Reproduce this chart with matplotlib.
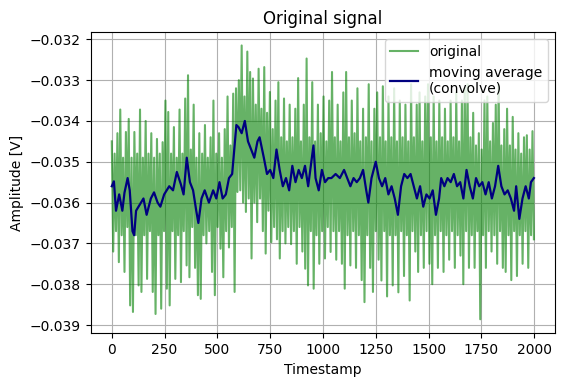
import numpy as np
import matplotlib
matplotlib.use("Agg")
import matplotlib.pyplot as plt

# Raw signal, in mV: alternating upper / lower strokes
signal_high_mv = [
    -34.5, -34.8, -34.3, -33.72, -34.9, -34.27, -33.95, -34.9, -34.27, -34.8,
    -33.72, -34.9, -34.0, -34.8, -34.3, -34.9, -34.44, -34.8, -34.52, -33.5,
    -33.78, -34.8, -34.15, -34.9, -33.72, -34.8, -33.45, -32.88, -34.7, -33.6,
    -34.9, -34.3, -34.8, -34.1, -34.9, -34.4, -33.5, -34.8, -34.3, -34.9,
    -34.2, -33.4, -34.6, -33.33, -33.2, -33.0, -32.15, -33.4, -32.3, -32.8,
    -32.96, -33.6, -32.72, -33.7, -32.68, -33.8, -33.29, -34.2, -33.5, -33.05,
    -34.4, -33.45, -34.5, -33.6, -34.4, -33.7, -32.95, -34.5, -33.6, -32.47,
    -34.4, -33.05, -34.5, -33.6, -34.3, -33.4, -34.5, -33.5, -32.8, -34.4,
    -33.6, -34.5, -33.3, -32.8, -34.4, -33.5, -34.3, -33.2, -34.5, -33.7,
    -34.4, -33.1, -34.5, -33.7, -33.3, -34.4, -33.15, -34.5, -33.4, -34.4,
    -33.2, -34.5, -33.5, -34.4, -33.6, -34.5, -33.1, -34.4, -33.6, -33.3,
    -34.5, -33.4, -33.1, -34.4, -33.4, -34.5, -33.5, -34.4, -33.7, -34.5,
    -33.5, -34.4, -33.3, -34.5, -33.5, -33.2, -33.1, -34.4, -33.8, -34.6,
    -34.3, -34.7, -33.5, -33.4, -34.5, -34.05, -33.6, -33.1, -34.6, -34.2,
    -33.7, -34.6, -33.9, -34.7, -34.3, -34.8, -34.4, -34.35, -34.7, -34.25,
]
signal_low_mv = [
    -37.2, -36.7, -37.46, -36.8, -37.7, -36.6, -38.52, -38.68, -36.8, -38.03,
    -38.19, -36.8, -37.87, -36.7, -38.19, -38.73, -36.8, -38.6, -36.7, -38.11,
    -38.52, -36.7, -37.87, -36.8, -37.95, -36.7, -37.54, -37.83, -36.6, -37.6,
    -38.27, -38.36, -36.8, -37.0, -36.7, -37.7, -38.27, -36.6, -37.13, -37.83,
    -36.7, -37.1, -36.6, -38.19, -35.74, -35.7, -36.0, -36.23, -35.9, -37.37,
    -36.0, -36.48, -35.9, -36.7, -37.25, -36.2, -36.97, -36.6, -36.9, -37.37,
    -36.7, -37.0, -36.6, -37.02, -36.7, -37.5, -36.6, -37.2, -37.62, -38.03,
    -36.7, -38.11, -36.8, -37.5, -36.7, -37.37, -36.6, -37.21, -36.7, -37.4,
    -36.7, -37.5, -38.11, -36.8, -37.54, -36.7, -37.6, -36.8, -37.9, -38.44,
    -36.8, -37.6, -38.19, -36.7, -37.4, -37.91, -36.7, -38.3, -36.8, -38.03,
    -36.8, -38.2, -36.7, -37.8, -36.8, -38.4, -36.7, -37.2, -37.7, -36.8,
    -37.6, -36.7, -37.5, -38.0, -36.8, -37.6, -36.7, -37.7, -36.8, -37.4,
    -36.7, -37.6, -36.8, -37.3, -38.0, -36.7, -37.6, -36.8, -37.6, -36.7,
    -38.86, -36.8, -37.6, -36.7, -37.2, -36.8, -37.5, -36.7, -37.6, -37.7,
    -36.8, -37.9, -36.7, -37.8, -36.8, -37.5, -36.7, -37.6, -36.8, -36.9,
]

# Moving average (timestamp, mV)
ma_t = [0, 10, 20, 35, 50, 60, 75, 85, 98, 106, 115, 130, 150, 165, 185, 200,
        217, 230, 248, 260, 272, 290, 308, 327, 340, 355, 370, 385, 400, 410,
        425, 440, 460, 480, 495, 510, 525, 540, 555, 570, 580, 590, 600, 615,
        630, 645, 660, 675, 690, 700, 720, 735, 750, 765, 780, 795, 810, 825,
        840, 855, 870, 885, 900, 915, 930, 945, 955, 965, 980, 995, 1010, 1025,
        1040, 1060, 1080, 1100, 1115, 1130, 1145, 1160, 1175, 1190, 1205, 1215,
        1230, 1250, 1265, 1280, 1295, 1310, 1325, 1340, 1355, 1370, 1385, 1400,
        1415, 1430, 1445, 1460, 1475, 1490, 1505, 1520, 1535, 1550, 1560, 1575,
        1590, 1605, 1620, 1635, 1650, 1665, 1680, 1695, 1710, 1725, 1740, 1755,
        1770, 1785, 1800, 1815, 1830, 1845, 1860, 1875, 1890, 1905, 1915, 1930,
        1945, 1960, 1975, 1985, 1999]
ma_mv = [-35.6, -35.48, -36.2, -35.8, -36.2, -35.76, -35.4, -35.7, -36.7, -36.8,
         -36.2, -36.07, -35.9, -36.3, -35.9, -35.75, -36.0, -36.1, -35.8, -35.7,
         -35.6, -35.7, -35.25, -35.55, -35.8, -34.9, -35.5, -35.7, -36.2, -36.5,
         -35.9, -35.7, -36.0, -35.7, -35.9, -35.5, -35.9, -35.8, -35.4, -35.3,
         -34.7, -34.1, -34.15, -34.3, -34.0, -34.5, -34.7, -34.9, -34.5, -34.4,
         -34.9, -35.3, -35.2, -35.4, -34.7, -35.2, -35.6, -35.4, -35.7, -35.1,
         -35.5, -35.2, -35.4, -35.1, -35.6, -35.0, -34.6, -35.4, -35.7, -35.2,
         -35.5, -35.4, -35.4, -35.3, -35.4, -35.2, -35.4, -35.6, -35.4, -35.5,
         -35.4, -35.2, -35.7, -36.0, -35.4, -35.0, -35.4, -35.6, -35.4, -35.8,
         -35.6, -35.9, -36.3, -35.6, -35.3, -35.4, -35.3, -35.6, -35.9, -35.6,
         -36.1, -35.8, -35.9, -35.7, -36.3, -35.9, -35.4, -35.6, -35.4, -35.5,
         -35.3, -35.6, -35.5, -35.9, -35.2, -35.6, -35.9, -35.4, -35.6, -35.5,
         -35.8, -35.5, -35.9, -35.6, -35.1, -35.6, -35.8, -35.7, -35.9, -36.2,
         -35.6, -36.4, -35.9, -35.6, -35.9, -35.5, -35.4]

# interleave upper and lower strokes into one raw series
raw_mv = np.column_stack([signal_high_mv, signal_low_mv]).ravel()
timestamps = np.linspace(0, 1999, len(raw_mv))
signal = raw_mv * 1e-3
moving_avg = np.array(ma_mv) * 1e-3

fig, ax = plt.subplots(figsize=(5.65, 3.87), dpi=100)
fig.subplots_adjust(left=0.1605, right=0.9823, top=0.9165, bottom=0.1388)

ax.plot(timestamps, signal, color="green", alpha=0.6, linewidth=1.5, label="original")
ax.plot(ma_t, moving_avg, color="navy", linewidth=1.6, label="moving average\n(convolve)")

ax.set_xlim(-99.95, 2098.95)
ax.set_ylim(-0.039203, -0.031828)
ax.set_title("Original signal")
ax.set_xlabel("Timestamp")
ax.set_ylabel("Amplitude [V]")
ax.grid(True)
ax.legend(loc="upper right")

fig.savefig("out.png", dpi=100)
